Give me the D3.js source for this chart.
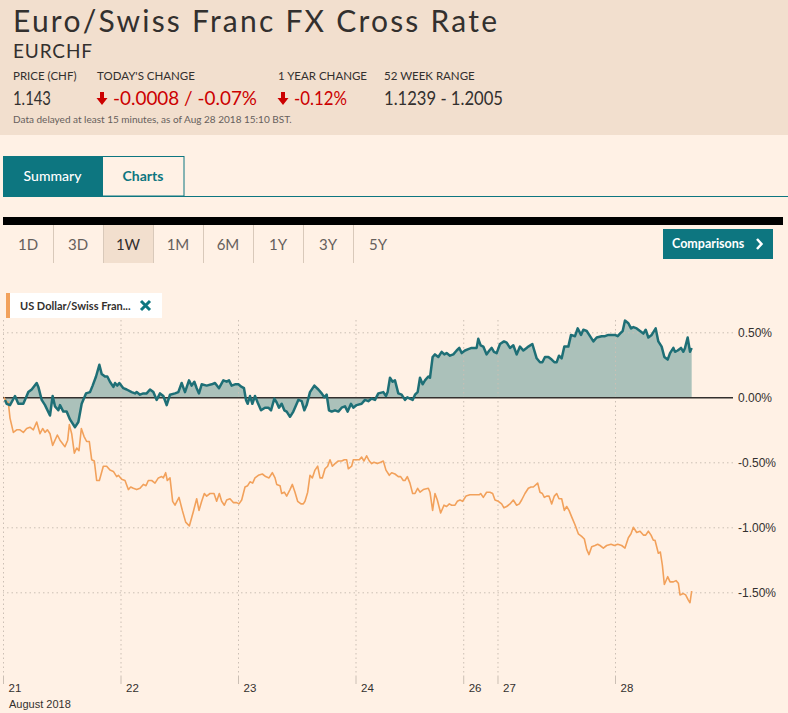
<!DOCTYPE html>
<html>
<head>
<meta charset="utf-8">
<script src="https://cdn.jsdelivr.net/npm/d3@7"></script>
<style>
  body { margin: 0; background: #fff1e5; }
  svg { display: block; }
  .axis text { font-family: "Liberation Sans Narrow", "Arial Narrow", "Liberation Sans", sans-serif; fill: #33302e; }
</style>
</head>
<body>
<div id="chart"></div>
<script>
'use strict';

// header figures
var title = 'Euro/Swiss Franc FX Cross Rate';
var symbol = 'EURCHF';
var statLabels = ['PRICE (CHF)', "TODAY'S CHANGE", '1 YEAR CHANGE', '52 WEEK RANGE'];
var statValues = ['1.143', '-0.0008 / -0.07%', '-0.12%', '1.1239 - 1.2005'];
var statDown = [false, true, true, false];
var delayNote = 'Data delayed at least 15 minutes, as of Aug 28 2018 15:10 BST.';
var rangeButtons = ['1D', '3D', '1W', '1M', '6M', '1Y', '3Y', '5Y'];
var activeRange = '1W';
var legendName = 'US Dollar/Swiss Fran...';

// x = trading hours since 21 Aug 00:00 (weekend gap removed), value = % change
var eurchf = [[0.41,-0.02],[0.75,-0.05],[1.43,-0.06],[2.45,0.01],[3.13,-0.05],[4.15,-0.05],[4.83,0.01],[5.17,0.04],[5.86,0.06],[6.88,0.11],
  [7.22,0.08],[7.90,-0.02],[8.58,-0.06],[9.60,-0.14],[10.14,0.01],[10.62,-0.07],[11.30,-0.10],[11.64,-0.06],[12.32,-0.11],[13.00,-0.11],
  [13.68,-0.17],[14.71,-0.23],[15.39,-0.19],[16.07,-0.05],[16.95,0.03],[17.77,0.04],[18.31,0.09],[19.00,0.16],[19.68,0.25],[20.15,0.18],
  [20.83,0.16],[21.31,0.16],[21.85,0.12],[22.54,0.08],[22.88,0.11],[23.35,0.09],[23.76,0.11],[24.58,0.07],[25.26,0.06],[26.28,0.04],
  [26.96,0.03],[27.30,0.04],[27.98,0.02],[28.66,0.03],[29.34,0.03],[30.02,0.06],[30.71,0.04],[31.39,-0.02],[32.07,0.03],[32.75,0.01],
  [33.43,-0.06],[34.11,0.02],[35.13,0.03],
  [35.81,0.04],[36.49,0.11],[37.17,0.04],[37.99,0.13],[38.53,0.09],[39.08,0.12],[39.56,0.07],[40.03,0.03],[40.58,0.10],[41.60,0.09],
  [42.62,0.10],[43.30,0.11],[44.12,0.07],[45.00,0.13],[45.68,0.12],[46.16,0.13],[46.70,0.09],[47.39,0.10],[48.07,0.10],[48.75,0.08],
  [49.22,0.07],[49.63,-0.02],[49.97,-0.05],[50.45,0.01],[50.93,-0.05],[51.47,0.01],[52.01,-0.04],[52.70,-0.10],[53.51,-0.08],[54.19,-0.08],
  [54.74,-0.10],[55.42,-0.01],[55.90,-0.04],[56.37,-0.08],[56.92,-0.05],[57.46,-0.10],[57.94,-0.11],[58.62,-0.15],[59.30,-0.11],[60.32,-0.02],
  [61.00,-0.03],[61.55,-0.10],[62.02,-0.06],[62.70,0.04],[63.59,0.09],[64.41,0.06],[65.09,0.03],[65.63,0.00],[66.11,0.02],[66.58,-0.10],
  [67.13,-0.11],[67.81,-0.10],[68.49,-0.11],[69.17,-0.08],[69.85,-0.07],[70.40,-0.11],[71.08,-0.05],
  [71.55,-0.08],[72.23,-0.06],[73.25,-0.05],[73.93,-0.02],[74.61,-0.03],[75.30,-0.01],[75.98,-0.02],[76.66,0.03],[77.68,0.04],[78.22,0.01],
  [78.56,0.04],[79.04,0.15],[79.58,0.12],[80.06,0.13],[80.74,0.03],[81.42,0.02],[82.10,-0.02],[82.58,0.00],[83.12,-0.01],[83.67,-0.02],
  [84.15,0.02],[84.69,0.04],[85.17,0.15],[85.71,0.10],[86.19,0.13],[86.87,0.16],[87.21,0.15],[87.75,0.31],[88.23,0.33],[88.91,0.31],
  [89.59,0.35],[90.14,0.33],[90.61,0.34],[91.29,0.32],[91.98,0.33],[92.66,0.36],[93.20,0.38],[93.68,0.34],[94.36,0.36],[95.04,0.37],
  [95.72,0.38],[96.74,0.38],[97.08,0.45],[97.56,0.40],[98.10,0.39],[98.78,0.33],[99.33,0.36],[99.81,0.38],[100.28,0.35],[100.83,0.34],
  [101.51,0.41],[102.32,0.43],[102.87,0.42],[103.55,0.38],[104.23,0.40],[104.91,0.33],[105.59,0.39],[106.27,0.36],[106.95,0.38],
  [107.30,0.39],[108.12,0.41],[109.00,0.30],[109.68,0.27],[110.16,0.27],[110.70,0.31],[111.39,0.31],[112.07,0.29],[112.61,0.27],[113.09,0.27],
  [113.56,0.32],[114.11,0.30],[114.65,0.39],[115.47,0.39],[116.02,0.48],[116.83,0.47],[117.38,0.53],[118.06,0.48],[118.53,0.52],[119.22,0.51],
  [119.90,0.47],[120.58,0.43],[121.26,0.46],[122.28,0.47],[122.96,0.47],[123.64,0.48],[124.32,0.48],[125.00,0.48],[125.55,0.47],[126.02,0.49],
  [126.57,0.51],[127.04,0.59],[127.73,0.57],[128.27,0.53],[128.75,0.54],[129.43,0.53],[130.11,0.51],[130.79,0.49],[131.27,0.52],[131.81,0.46],
  [132.49,0.48],[133.31,0.53],[133.85,0.43],[134.53,0.39],[135.08,0.31],[135.76,0.29],[136.24,0.34],[136.92,0.38],[137.26,0.35],[137.80,0.36],
  [138.48,0.38],[138.96,0.35],[139.30,0.38],[139.84,0.46],[140.32,0.35],[140.66,0.38]];

var usdchf = [[0.20,0.00],[0.61,-0.03],[1.09,-0.04],[1.43,-0.16],[2.11,-0.27],[2.79,-0.25],[3.47,-0.25],[4.15,-0.27],[4.83,-0.24],[5.51,-0.23],
  [6.20,-0.25],[6.88,-0.19],[7.56,-0.28],[8.10,-0.24],[8.58,-0.27],[9.06,-0.25],[9.60,-0.28],[10.14,-0.37],[11.10,-0.29],[11.64,-0.33],
  [12.66,-0.38],[13.21,-0.33],[13.55,-0.21],[14.03,-0.28],[14.57,-0.43],[15.05,-0.39],[15.52,-0.41],[16.00,-0.24],[16.54,-0.30],[17.09,-0.34],
  [17.63,-0.34],[18.11,-0.48],[18.65,-0.49],[19.13,-0.64],[19.68,-0.64],[20.49,-0.53],[21.17,-0.53],[21.85,-0.56],[22.54,-0.57],[23.22,-0.61],
  [23.56,-0.60],[24.24,-0.63],[24.92,-0.64],[25.60,-0.71],[26.08,-0.69],[26.62,-0.70],[27.30,-0.71],[27.98,-0.70],[28.66,-0.67],[29.21,-0.68],
  [29.68,-0.64],[30.37,-0.64],[31.05,-0.66],[31.73,-0.62],[32.41,-0.61],[32.75,-0.62],[33.22,-0.58],[33.56,-0.64],[34.11,-0.62],[34.65,-0.80],
  [35.13,-0.83],[35.95,-0.77],[36.63,-0.87],[37.31,-0.96],[38.06,-0.99],[38.87,-0.88],[39.56,-0.78],[40.03,-0.87],[40.58,-0.80],[41.12,-0.74],
  [41.60,-0.76],[42.28,-0.74],[43.10,-0.74],[43.64,-0.80],[44.18,-0.74],[44.66,-0.80],[45.21,-0.83],[45.68,-0.79],[46.36,-0.78],[47.04,-0.81],
  [47.73,-0.81],[48.20,-0.82],[48.75,-0.79],[49.43,-0.69],[49.97,-0.68],[50.45,-0.65],[50.99,-0.66],[51.47,-0.62],[52.15,-0.60],[52.97,-0.59],
  [53.65,-0.61],[54.33,-0.62],[55.01,-0.58],[55.56,-0.62],[55.90,-0.67],[56.58,-0.68],[56.92,-0.74],[57.46,-0.73],[57.94,-0.76],[58.62,-0.71],
  [59.10,-0.67],[59.64,-0.73],[60.18,-0.80],[60.87,-0.82],[61.34,-0.82],[61.68,-0.80],[62.23,-0.73],[62.70,-0.60],[63.18,-0.62],[63.72,-0.56],
  [64.27,-0.53],[64.75,-0.62],[65.22,-0.62],[65.77,-0.55],[66.31,-0.53],[66.79,-0.48],[67.27,-0.53],[67.81,-0.51],[68.49,-0.49],[69.17,-0.49],
  [69.72,-0.48],[70.19,-0.48],[70.53,-0.55],[71.21,-0.53],[71.55,-0.48],[72.23,-0.48],[72.78,-0.48],[73.25,-0.46],[73.73,-0.49],[74.27,-0.45],
  [74.82,-0.49],[75.30,-0.51],[75.77,-0.50],[76.45,-0.51],[77.13,-0.50],[77.68,-0.49],[78.22,-0.56],[78.90,-0.60],[79.38,-0.58],[80.06,-0.59],
  [80.74,-0.61],[81.22,-0.61],[81.76,-0.64],[82.10,-0.64],[82.58,-0.61],[83.12,-0.66],[83.67,-0.74],[84.15,-0.74],[84.69,-0.70],[85.17,-0.73],
  [85.85,-0.71],[86.87,-0.70],[87.21,-0.73],[87.75,-0.87],[88.23,-0.74],[88.71,-0.79],[89.39,-0.89],[90.07,-0.83],[90.61,-0.84],[91.16,-0.82],
  [91.64,-0.83],[92.32,-0.83],[92.79,-0.80],[93.34,-0.79],[93.88,-0.80],[94.56,-0.76],[95.38,-0.75],[96.40,-0.75],[97.29,-0.75],[97.56,-0.74],
  [98.10,-0.77],[98.78,-0.73],[99.46,-0.73],[100.01,-0.74],[100.49,-0.79],[101.17,-0.80],[101.85,-0.82],[102.32,-0.85],[102.87,-0.84],[103.55,-0.82],
  [104.23,-0.79],[104.91,-0.83],[105.46,-0.82],[105.93,-0.79],[106.61,-0.74],[107.30,-0.70],[107.85,-0.69],[108.32,-0.69],[109.21,-0.66],[109.68,-0.73],
  [110.16,-0.74],[110.57,-0.77],[111.05,-0.76],[111.52,-0.76],[112.07,-0.82],[112.61,-0.76],[113.09,-0.74],[113.56,-0.78],[114.11,-0.78],[114.65,-0.87],
  [115.13,-0.84],[115.61,-0.87],[116.15,-0.92],[116.83,-0.98],[117.51,-1.05],[118.19,-1.07],[118.74,-1.09],[119.22,-1.17],[119.69,-1.21],[120.24,-1.15],
  [120.92,-1.14],[121.46,-1.13],[121.94,-1.14],[122.62,-1.16],[123.30,-1.14],[124.19,-1.13],[124.87,-1.14],[125.55,-1.13],[126.36,-1.14],[127.04,-1.16],
  [127.73,-1.08],[128.27,-1.05],[128.75,-1.00],[129.43,-1.04],[130.11,-1.03],[130.79,-1.06],[131.27,-1.06],[131.81,-1.03],[132.36,-1.06],[132.83,-1.10],
  [133.17,-1.10],[133.85,-1.20],[134.26,-1.19],[134.67,-1.29],[135.08,-1.44],[135.76,-1.38],[136.24,-1.42],[136.92,-1.42],[137.46,-1.41],[137.94,-1.43],
  [138.28,-1.52],[138.96,-1.51],[139.43,-1.52],[139.98,-1.56],[140.32,-1.58],[140.66,-1.49]];

// day boundaries in trading hours (26 = Sunday session open)
var dayTicks = [0, 24, 48, 72, 94, 101, 125];
var dayLabels = ['21', '22', '23', '24', '26', '27', '28'];
var monthLabel = 'August 2018';
var pctTicks = [0.5, 0, -0.5, -1, -1.5];

var W = 788, H = 713;
var teal = '#0d7680', dark = '#33302e', red = '#cc0000';
var headFont = 'Lato, "Open Sans", sans-serif';

var svg = d3.select('#chart').append('svg')
  .attr('width', W)
  .attr('height', H);

// ---- header ----
svg.append('rect').attr('width', W).attr('height', 135).attr('fill', '#f2dfce');

svg.append('text')
  .attr('x', 13).attr('y', 32)
  .attr('font-family', headFont).attr('font-size', 30).attr('fill', dark)
  .attr('textLength', 484)
  .text(title);

svg.append('text')
  .attr('x', 13).attr('y', 58)
  .attr('font-family', headFont).attr('font-size', 19).attr('fill', dark)
  .attr('textLength', 79)
  .text(symbol);

var statX = [13, 97, 278, 384];
var valueWidth = [38, 144, 53, 119];
var stat = svg.selectAll('.stat')
  .data(statLabels)
  .enter().append('g')
  .attr('class', 'stat')
  .attr('transform', function(d, i) { return 'translate(' + statX[i] + ',0)'; });

stat.append('text')
  .attr('y', 80)
  .attr('font-family', headFont).attr('font-size', 11.5).attr('fill', dark)
  .text(function(d) { return d; });

stat.filter(function(d, i) { return statDown[i]; })
  .append('path')
  .attr('d', 'M3,0H7V6H10.5L5,13L-0.5,6H3Z')
  .attr('transform', 'translate(0,92)')
  .attr('fill', red);

stat.append('text')
  .attr('x', function(d, i) { return statDown[i] ? 16 : 0; })
  .attr('y', 105)
  .attr('font-family', headFont).attr('font-size', 19)
  .attr('textLength', function(d, i) { return valueWidth[i]; })
  .attr('lengthAdjust', 'spacingAndGlyphs')
  .attr('fill', function(d, i) { return statDown[i] ? red : dark; })
  .text(function(d, i) { return statValues[i]; });

svg.append('text')
  .attr('x', 13).attr('y', 123)
  .attr('font-family', headFont).attr('font-size', 10).attr('fill', '#66605c')
  .text(delayNote);

// ---- tabs ----
svg.append('rect').attr('x', 3).attr('y', 156).attr('width', 99).attr('height', 40).attr('fill', teal);
svg.append('rect').attr('x', 102.5).attr('y', 156.5).attr('width', 81.5).attr('height', 39.5)
  .attr('fill', '#fff1e5').attr('stroke', teal);
svg.append('line').attr('x1', 3).attr('x2', W).attr('y1', 196.5).attr('y2', 196.5).attr('stroke', teal);
svg.append('text').attr('x', 52.5).attr('y', 181).attr('text-anchor', 'middle')
  .attr('font-family', headFont).attr('font-size', 14).attr('font-weight', 500).attr('fill', '#fff')
  .text('Summary');
svg.append('text').attr('x', 143).attr('y', 181).attr('text-anchor', 'middle')
  .attr('font-family', headFont).attr('font-size', 14).attr('font-weight', 700).attr('fill', teal)
  .text('Charts');

// ---- range buttons ----
svg.append('rect').attr('x', 3).attr('y', 217).attr('width', 780).attr('height', 8).attr('fill', '#000');

var btn = svg.selectAll('.btn')
  .data(rangeButtons)
  .enter().append('g')
  .attr('class', 'btn')
  .attr('transform', function(d, i) { return 'translate(' + (3 + i * 50) + ',225)'; });

btn.append('rect')
  .attr('width', 50).attr('height', 38)
  .attr('fill', function(d) { return d === activeRange ? '#f2dfce' : 'none'; });

btn.filter(function(d, i) { return i > 0; })
  .append('line')
  .attr('x1', 0.5).attr('x2', 0.5).attr('y1', 0).attr('y2', 38)
  .attr('stroke', '#d9c9ba');

btn.append('text')
  .attr('x', 25).attr('y', 25).attr('text-anchor', 'middle')
  .attr('font-family', headFont).attr('font-size', 15)
  .attr('fill', function(d) { return d === activeRange ? dark : '#66605c'; })
  .text(function(d) { return d; });

svg.append('rect').attr('x', 663).attr('y', 229).attr('width', 110).attr('height', 30).attr('fill', teal);
svg.append('text').attr('x', 672).attr('y', 248)
  .attr('font-family', headFont).attr('font-size', 12.5).attr('font-weight', 700).attr('fill', '#fff')
  .text('Comparisons');
svg.append('path').attr('d', 'M757,239L761.5,244L757,249')
  .attr('fill', 'none').attr('stroke', '#fff').attr('stroke-width', 2.5);

// ---- chart ----
var plotLeft = 3, plotRight = 733, plotTop = 318, axisY = 677;

var x = d3.scaleLinear().domain([0, 125]).range([3, 615]);
var y = d3.scaleLinear().domain([-1.5, 0.5]).range([592.3, 332.3]);

var area = d3.area()
  .x(function(d) { return x(d[0]); })
  .y0(y(0))
  .y1(function(d) { return y(d[1]); });

var line = d3.line()
  .x(function(d) { return x(d[0]); })
  .y(function(d) { return y(d[1]); });

svg.append('path')
  .datum(eurchf)
  .attr('d', area)
  .attr('fill', '#abc1ba');

// vertical grid
svg.append('g')
  .attr('transform', 'translate(0,' + axisY + ')')
  .call(d3.axisBottom(x).tickValues(dayTicks).tickSize(-(axisY - plotTop)).tickFormat(''))
  .call(function(g) {
    g.select('.domain').remove();
    g.selectAll('line').attr('stroke', '#cbbfb4').attr('stroke-dasharray', '1.5,3');
  });

// y axis + horizontal grid
var pctFormat = function(d) { return d3.format('.2f')(d).replace('\u2212', '-') + '%'; };
svg.append('g')
  .attr('class', 'axis')
  .attr('transform', 'translate(' + plotRight + ',0)')
  .call(d3.axisRight(y).tickValues(pctTicks).tickSize(-(plotRight - plotLeft)).tickPadding(5).tickFormat(pctFormat))
  .call(function(g) {
    g.select('.domain').remove();
    g.selectAll('text').attr('font-size', 12).attr('fill', dark);
    g.selectAll('.tick line')
      .attr('stroke', function(d) { return d === 0 ? dark : '#cbbfb4'; })
      .attr('stroke-width', function(d) { return d === 0 ? 1.5 : 1; })
      .attr('stroke-dasharray', function(d) { return d === 0 ? null : '1.5,3'; });
  });

svg.append('path')
  .datum(usdchf)
  .attr('d', line)
  .attr('fill', 'none')
  .attr('stroke', '#f2a15b')
  .attr('stroke-width', 1.6)
  .attr('stroke-linejoin', 'round');

svg.append('path')
  .datum(eurchf)
  .attr('d', line)
  .attr('fill', 'none')
  .attr('stroke', '#1e6f76')
  .attr('stroke-width', 2.5)
  .attr('stroke-linejoin', 'round');

// x axis
svg.append('g')
  .attr('class', 'axis')
  .attr('transform', 'translate(0,' + axisY + ')')
  .call(d3.axisBottom(x).tickValues(dayTicks).tickSize(7)
    .tickFormat(function(d, i) { return dayLabels[i]; }))
  .call(function(g) {
    g.select('.domain').remove();
    g.selectAll('line').attr('stroke', '#cbbfb4');
    g.selectAll('text').attr('text-anchor', 'start').attr('x', 5).attr('y', 15).attr('dy', null)
      .attr('font-size', 11.5).attr('fill', dark);
  });

svg.append('text')
  .attr('class', 'axis')
  .attr('x', 9).attr('y', 708)
  .attr('font-family', '"Liberation Sans Narrow", "Arial Narrow", "Liberation Sans", sans-serif')
  .attr('font-size', 11).attr('fill', dark)
  .text(monthLabel);

// legend
var legend = svg.append('g').attr('transform', 'translate(6,293)');
legend.append('rect').attr('width', 156).attr('height', 25).attr('fill', '#fff');
legend.append('rect').attr('width', 4).attr('height', 25).attr('fill', '#f2a15b');
legend.append('text').attr('x', 14).attr('y', 16.5)
  .attr('font-family', headFont).attr('font-size', 11).attr('font-weight', 700).attr('fill', dark)
  .text(legendName);
legend.append('path').attr('d', 'M135,8L144,17M144,8L135,17')
  .attr('stroke', teal).attr('stroke-width', 3);
</script>
</body>
</html>
